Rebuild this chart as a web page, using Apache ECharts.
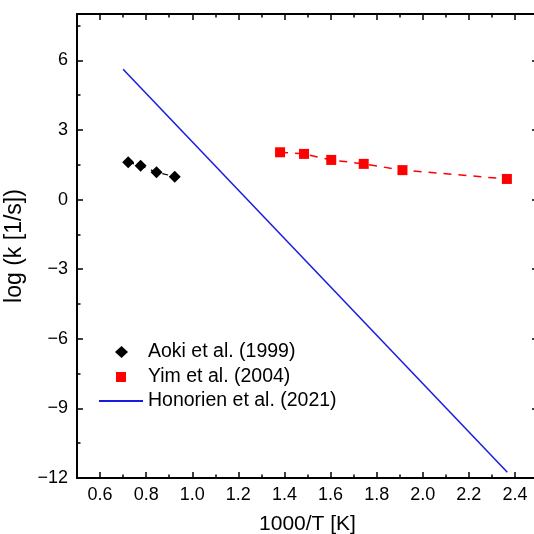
<!DOCTYPE html>
<html>
<head>
<meta charset="utf-8">
<script src="https://cdn.jsdelivr.net/npm/echarts@6/dist/echarts.min.js"></script>
<style>
  html, body { margin: 0; padding: 0; background: #ffffff; }
  #chart { width: 534px; height: 534px; }
</style>
</head>
<body>
<div id="chart"></div>
<script>
// Rate constants, log10(k) versus 1000/T
const aokiX = [0.722, 0.776, 0.845, 0.924];
const aokiY = [1.61, 1.46, 1.18, 0.99];

const yimX = [1.381, 1.485, 1.603, 1.744, 1.912, 2.365];
const yimY = [2.04, 1.97, 1.71, 1.54, 1.27, 0.89];

const honorienX = [0.70, 2.367];
const honorienY = [5.62, -11.75];

const seriesNames = ['Aoki et al. (1999)', 'Yim et al. (2004)', 'Honorien et al. (2021)'];

// Tick positions
const xMajorTicks = [0.6, 0.8, 1.0, 1.2, 1.4, 1.6, 1.8, 2.0, 2.2, 2.4];
const xMinorTicks = [0.7, 0.9, 1.1, 1.3, 1.5, 1.7, 1.9, 2.1, 2.3];
const yMajorTicks = [-12, -9, -6, -3, 0, 3, 6];
const yMinorTicks = [-10.5, -7.5, -4.5, -1.5, 1.5, 4.5, 7.5];

const FONT = '"Liberation Sans", Arial, Helvetica, sans-serif';
const pairs = (xs, ys) => xs.map((x, i) => [x, ys[i]]);

function makeAxis(kind, position, ticks, len, opts) {
  const base = {
    type: 'value',
    position: position,
    min: kind === 'x' ? 0.5 : -12,
    max: kind === 'x' ? 2.5 : 8,
    splitLine: { show: false },
    axisLine: { show: !!opts.line, onZero: false, lineStyle: { color: '#000', width: 2 } },
    axisTick: {
      show: true, inside: true, length: len,
      customValues: ticks,
      lineStyle: { color: '#000', width: 1.5 }
    },
    axisLabel: { show: false }
  };
  if (opts.labels) {
    base.axisLabel = {
      show: true,
      customValues: ticks,
      margin: kind === 'x' ? 8 : 9,
      color: '#000',
      fontSize: 18,
      fontFamily: FONT,
      formatter: kind === 'x'
        ? v => Number(v).toFixed(1)
        : v => String(Math.round(v)).replace('-', '\u2212')
    };
  }
  return Object.assign(base, opts.extra || {});
}

// One legend block per entry so each marker keeps its own size
function legendEntry(name, icon, left, centerY, w, h, textPad) {
  return {
    orient: 'vertical',
    left: left,
    top: centerY - 10,
    padding: 0,
    itemWidth: w,
    itemHeight: h,
    icon: icon,
    textStyle: {
      color: '#000', fontSize: 19.5, fontFamily: FONT,
      lineHeight: 20, padding: [0, 0, 0, textPad]
    },
    data: [name]
  };
}

const chart = echarts.init(document.getElementById('chart'), null, { renderer: 'canvas' });

chart.setOption({
  animation: false,
  backgroundColor: '#ffffff',
  grid: { left: 77, top: 14, width: 461, height: 464, containLabel: false, outerBoundsMode: 'none' },
  xAxis: [
    makeAxis('x', 'bottom', xMajorTicks, 6, {
      line: true, labels: true,
      extra: {
        name: '1000/T [K]',
        nameLocation: 'middle',
        nameGap: 36,
        nameTextStyle: { color: '#000', fontSize: 21, fontFamily: FONT, verticalAlign: 'top' }
      }
    }),
    makeAxis('x', 'bottom', xMinorTicks, 3.5, {}),
    makeAxis('x', 'top', xMajorTicks, 6, { line: true }),
    makeAxis('x', 'top', xMinorTicks, 3.5, {})
  ],
  yAxis: [
    makeAxis('y', 'left', yMajorTicks, 6, {
      line: true, labels: true,
      extra: {
        name: 'log (k [1/s])',
        nameLocation: 'middle',
        nameGap: 45,
        nameTextStyle: { color: '#000', fontSize: 23, fontFamily: FONT }
      }
    }),
    makeAxis('y', 'left', yMinorTicks, 3.5, {}),
    makeAxis('y', 'right', yMajorTicks, 6, { line: true }),
    makeAxis('y', 'right', yMinorTicks, 3.5, {})
  ],
  legend: [
    legendEntry(seriesNames[0], 'diamond', 115, 352, 13, 12, 15),
    legendEntry(seriesNames[1], 'rect', 116, 377, 10, 10, 17),
    legendEntry(seriesNames[2], 'rect', 99, 401, 44, 2, 0)
  ],
  series: [
    {
      name: seriesNames[0],
      type: 'line',
      data: pairs(aokiX, aokiY),
      symbol: 'diamond',
      symbolSize: 12,
      itemStyle: { color: '#000' },
      lineStyle: { color: '#000', width: 1.2, type: [6, 6] },
      z: 3
    },
    {
      name: seriesNames[1],
      type: 'line',
      data: pairs(yimX, yimY),
      symbol: 'rect',
      symbolSize: 10,
      itemStyle: { color: '#ff0000' },
      lineStyle: { color: '#ff0000', width: 1.5, type: [8, 7] },
      z: 3
    },
    {
      name: seriesNames[2],
      type: 'line',
      data: pairs(honorienX, honorienY),
      showSymbol: false,
      symbol: 'none',
      itemStyle: { color: '#1a1ae0' },
      lineStyle: { color: '#1a1ae0', width: 1.5 },
      z: 2
    }
  ]
});
</script>
</body>
</html>
